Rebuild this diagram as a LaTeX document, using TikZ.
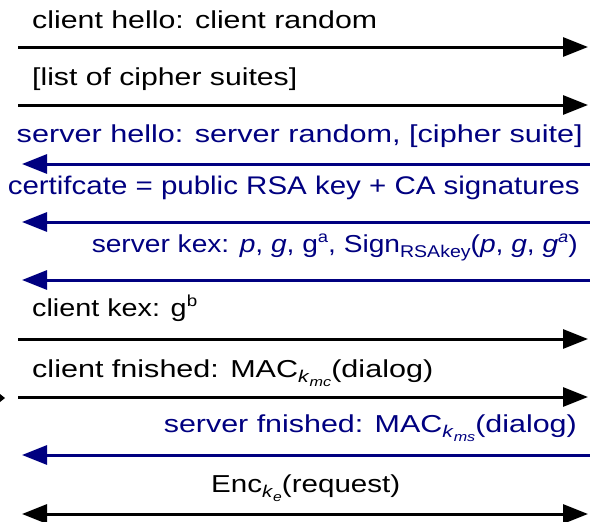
\documentclass[tikz,border=0pt]{standalone}
\usepackage{fontspec}
\setmainfont{Liberation Sans}
\usetikzlibrary{arrows.meta}
\definecolor{navyblue}{RGB}{0,0,128}
\newcommand\supx[1]{\raisebox{9.5pt}{\fontsize{16}{16}\selectfont #1}}
\newcommand\subx[1]{\raisebox{-5pt}{\fontsize{17}{17}\selectfont #1}}
\newcommand\subxx[1]{\raisebox{-4pt}{\fontsize{13}{13}\selectfont #1}}
\newcommand\fitto[2]{\resizebox{#1}{\height}{#2}}
\begin{document}
\begin{tikzpicture}[x=1pt,y=-1pt,
  msg/.style={line width=3pt, -{Triangle[length=25pt,width=19pt]}},
  both/.style={line width=3pt, {Triangle[length=25pt,width=19pt]}-{Triangle[length=25pt,width=19pt]}},
  lbl/.style={inner sep=0pt, font=\fontsize{24.5}{29}\selectfont},
  lblL/.style={lbl, anchor=base west},
  lblR/.style={lbl, anchor=base east, text=navyblue}]
\useasboundingbox (0,0) rectangle (590,522);
% end points
\coordinate (c1) at (18,47);  \coordinate (s1) at (588,47);
\coordinate (c2) at (18,105); \coordinate (s2) at (588,105);
\coordinate (c3) at (22,164); \coordinate (s3) at (590,164);
\coordinate (c4) at (22,222); \coordinate (s4) at (590,222);
\coordinate (c5) at (22,280); \coordinate (s5) at (590,280);
\coordinate (c6) at (18,339); \coordinate (s6) at (588,339);
\coordinate (c7) at (18,397); \coordinate (s7) at (588,397);
\coordinate (c8) at (22,455); \coordinate (s8) at (590,455);
\coordinate (c9) at (22,514); \coordinate (s9) at (588,514);
% arrows
\draw[msg] (c1) -- (s1);
\draw[msg] (c2) -- (s2);
\draw[msg,navyblue] (s3) -- (c3);
\draw[msg,navyblue] (s4) -- (c4);
\draw[msg,navyblue] (s5) -- (c5);
\draw[msg] (c6) -- (s6);
\draw[msg] (c7) -- (s7);
\draw[msg,navyblue] (s8) -- (c8);
\draw[both] (c9) -- (s9);
% small cut-off tip at the left edge
\fill (0,394) -- (5,398) -- (0,402) -- cycle;
% labels
\node[lblL] (t1) at (32,28.5) {\fitto{345pt}{client hello: client random}};
\node[lblL] (t2) at (32,85) {\fitto{265pt}{[list of cipher suites]}};
\node[lblR] (t3) at (583,142) {\fitto{566pt}{server hello: server random, [cipher suite]}};
\node[lblR, font=\fontsize{25.5}{30}\selectfont] (t4) at (580,194) {\fitto{572pt}{certifcate = public RSA key + CA signatures}};
\node[lblR] (t5) at (578,252) {\fitto{486pt}{server kex: \textit{p}, \textit{g}, g\supx{a}, Sign\subx{RSAkey}(\textit{p}, \textit{g}, \textit{g}\supx{\textit{a}})}};
\node[lblL] (t6) at (32,316) {\fitto{165pt}{client kex: g\supx{b}}};
\node[lblL] (t7) at (32,377) {\fitto{401pt}{client fnished: MAC\subx{\textit{k}\subxx{\textit{mc}}}(dialog)}};
\node[lblR] (t8) at (577,432) {\fitto{413pt}{server fnished: MAC\subx{\textit{k}\subxx{\textit{ms}}}(dialog)}};
\node[lbl, anchor=base west] (t9) at (211,492) {\fitto{189pt}{Enc\subx{\textit{k}\subxx{\textit{e}}}(request)}};
\end{tikzpicture}
\end{document}
